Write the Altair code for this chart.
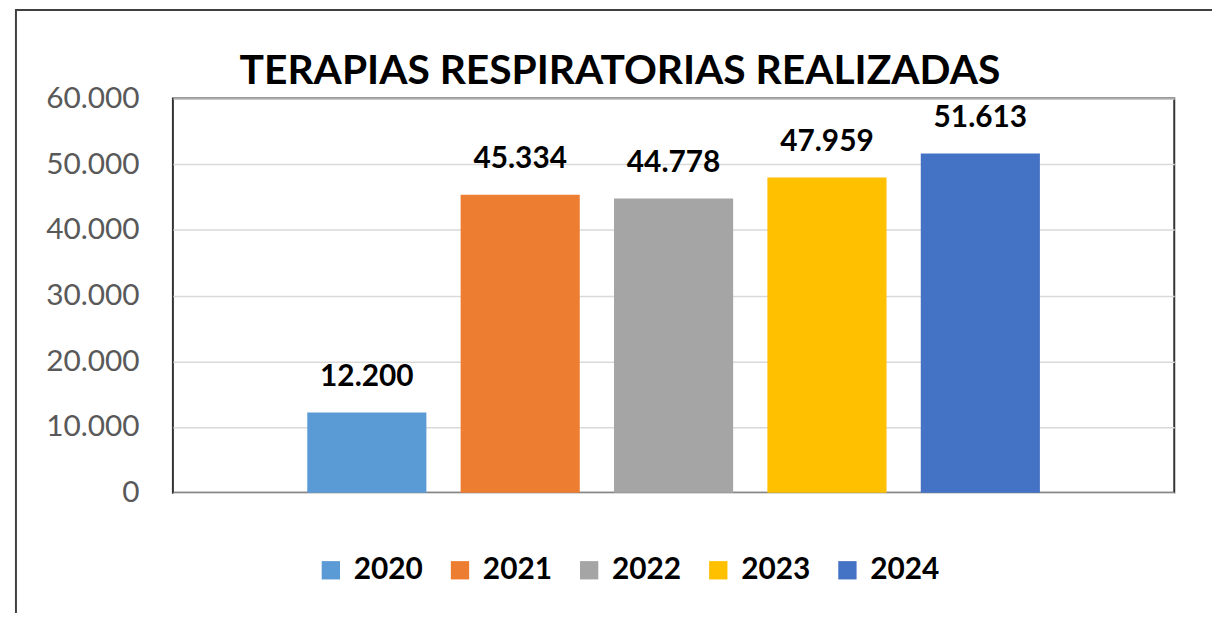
import altair as alt
import pandas as pd

anios = ["2020", "2021", "2022", "2023", "2024"]
valores = [12200, 45334, 44778, 47959, 51613]
colores = ["#5B9BD5", "#ED7D31", "#A5A5A5", "#FFC000", "#4472C4"]
ticks_y = [0, 10000, 20000, 30000, 40000, 50000, 60000]
titulo = "TERAPIAS RESPIRATORIAS REALIZADAS"

df = pd.DataFrame({"anio": anios, "valor": valores})

x_enc = alt.X("anio:N", axis=None, sort=anios,
              scale=alt.Scale(paddingInner=0.2233, paddingOuter=0.876))
y_enc = alt.Y("valor:Q",
              scale=alt.Scale(domain=[0, 60000], nice=False),
              axis=alt.Axis(values=ticks_y, title=None, domain=False, ticks=False,
                            labelExpr="replace(datum.label, ',', '.')",
                            labelFont="Lato", labelFontSize=30, labelColor="#595959",
                            labelPadding=34, gridColor="#d9d9d9", gridWidth=1.5))

border = alt.Chart(alt.Data(values=[{"k": 1}])).mark_rect(
    fill="transparent", stroke="#404040", strokeWidth=2
).encode(
    x=alt.value(-158), x2=alt.value(1300),
    y=alt.value(-89), y2=alt.value(600)
)

bars = alt.Chart(df).mark_bar().encode(
    x=x_enc,
    y=y_enc,
    color=alt.Color("anio:N", sort=anios,
                    scale=alt.Scale(domain=anios, range=colores),
                    legend=alt.Legend(title=None, orient="none", direction="horizontal",
                                      legendX=144, legendY=460, padding=0,
                                      symbolType="square", symbolSize=340,
                                      symbolStrokeWidth=0, labelFont="Lato",
                                      labelFontSize=30, labelFontWeight="bold",
                                      labelColor="black", labelOffset=8,
                                      columnPadding=22))
)

labels = alt.Chart(df).transform_calculate(
    etiqueta="replace(format(datum.valor, ','), ',', '.')"
).mark_text(
    font="Lato", fontSize=30, fontWeight="bold", color="black",
    baseline="alphabetic", dy=-27
).encode(
    x=x_enc,
    y=alt.Y("valor:Q"),
    text="etiqueta:N"
)

chart = alt.layer(border, bars, labels).properties(
    width=1008, height=397,
    background="white",
    title=alt.TitleParams(text=titulo, font="Lato", fontSize=41, fontWeight="bold",
                          color="black", anchor="middle", frame="group",
                          dx=-54, baseline="alphabetic", offset=-116),
    padding={"left": 166, "top": 89, "right": 38, "bottom": 119},
    autosize=alt.AutoSizeParams(type="none")
).configure_view(
    stroke="#333333", strokeWidth=2
)

chart.save("out.html", embed_options={"renderer": "svg", "actions": False})
